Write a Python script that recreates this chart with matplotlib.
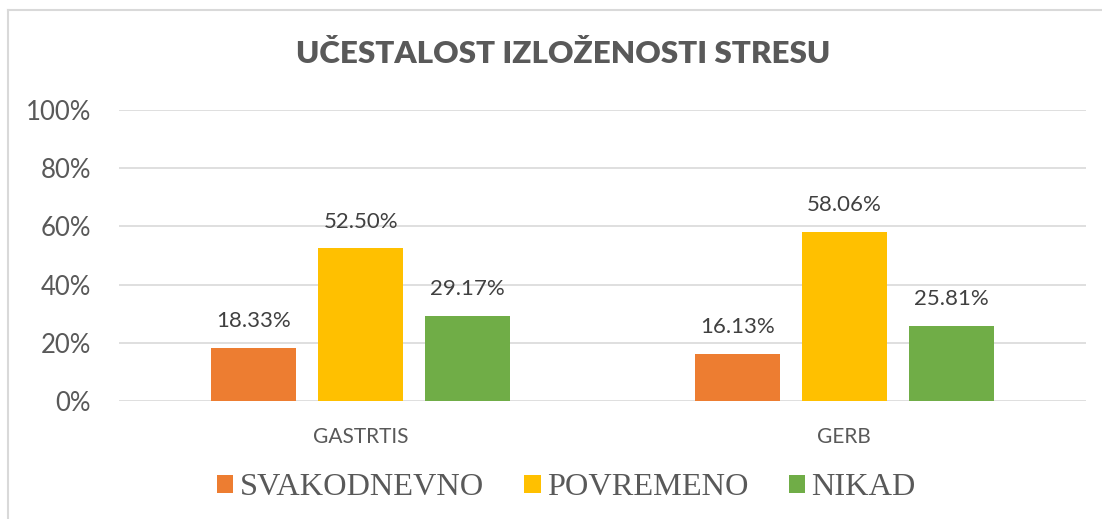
import matplotlib.pyplot as plt
from matplotlib.lines import Line2D
from matplotlib.patches import Patch
from matplotlib.font_manager import FontProperties
from matplotlib.ticker import PercentFormatter
import numpy as np

categories = ['GASTRTIS', 'GERB']
series_names = ['SVAKODNEVNO', 'POVREMENO', 'NIKAD']
svakodnevno = [18.33, 16.13]
povremeno = [52.50, 58.06]
nikad = [29.17, 25.81]
colors = ['#ED7D31', '#FFC000', '#70AD47']
gray = '#595959'

plt.rcParams['font.family'] = ['Lato', 'DejaVu Sans']

fig = plt.figure(figsize=(11.02, 5.19), dpi=100)
ax = fig.add_axes([0.108, 0.2274, 0.8775, 0.5606])

x = np.arange(len(categories))
width = 0.176
step = 0.221
for i, (vals, name, c) in enumerate(zip([svakodnevno, povremeno, nikad], series_names, colors)):
    bars = ax.bar(x + (i - 1) * step, vals, width, color=c, label=name, zorder=3)
    for b, v in zip(bars, vals):
        ax.annotate(f'{v:.2f}%', (b.get_x() + b.get_width() / 2, v),
                    xytext=(0, 12), textcoords='offset points',
                    ha='center', va='bottom', fontsize=16, color='#404040')

ax.set_xlim(-0.5, 1.5)
ax.set_ylim(0, 100)
ax.set_yticks(range(0, 101, 20))
ax.yaxis.set_major_formatter(PercentFormatter(decimals=0))
ax.grid(axis='y', color='#D9D9D9', linewidth=1.2, zorder=0)
for s in ax.spines.values():
    s.set_visible(False)
ax.tick_params(axis='both', length=0, colors=gray)
ax.tick_params(axis='y', labelsize=18.5, pad=20)
ax.set_xticks(x)
ax.set_xticklabels(categories, fontsize=15)
ax.tick_params(axis='x', pad=19)

fig.text(0.511, 0.895, 'UČESTALOST IZLOŽENOSTI STRESU', ha='center', va='center',
         fontsize=22.6, fontweight='heavy', color=gray)

# legend uses a Times-like serif face as in the original
serif = FontProperties(family=['Liberation Serif', 'DejaVu Serif'], size=23.3)
handles = [Patch(facecolor=c, edgecolor='none') for c in colors]
leg = fig.legend(handles, series_names, loc='center', bbox_to_anchor=(0.514, 0.06),
                 ncol=3, frameon=False, handlelength=0.5, handleheight=0.5,
                 handletextpad=0.2, columnspacing=1.25, prop=serif)
for t in leg.get_texts():
    t.set_color(gray)

# chart border (top and left)
fig.add_artist(Line2D([0.0073, 1.0], [0.9807, 0.9807], color='#D9D9D9', linewidth=1.5))
fig.add_artist(Line2D([0.0073, 0.0073], [0.0, 0.9807], color='#D9D9D9', linewidth=1.5))

fig.savefig('out.png', dpi=100)
